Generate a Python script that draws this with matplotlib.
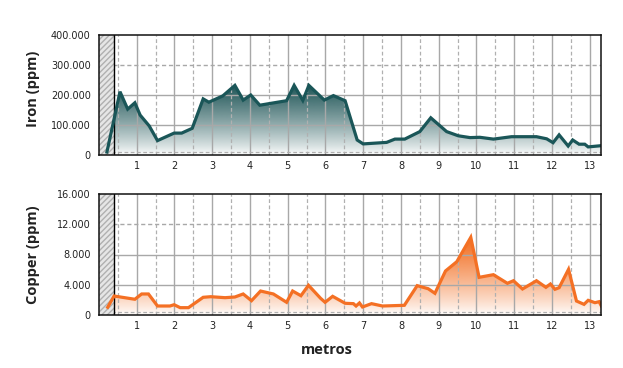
import numpy as np
import matplotlib
matplotlib.use("Agg")
import matplotlib.pyplot as plt
import matplotlib.colors as mcolors
from matplotlib.ticker import FuncFormatter

# ---- data ----
iron_x = [0.21, 0.556, 0.76, 0.95, 1.09, 1.33, 1.55, 1.99, 2.19, 2.47, 2.76, 2.91, 3.28, 3.60, 3.82,
          4.02, 4.26, 4.97, 5.17, 5.40, 5.56, 5.97, 6.21, 6.52, 6.84, 7.0, 7.62, 7.84, 8.1, 8.50,
          8.79, 9.21, 9.52, 9.83, 10.09, 10.45, 10.93, 11.59, 11.86, 12.03, 12.19, 12.43, 12.55,
          12.72, 12.87, 12.96, 13.3]
iron_y = [10000, 211000, 153000, 174000, 133000, 97000, 48000, 73000, 73000, 89000, 187000, 176000,
          197000, 232000, 183000, 200000, 166000, 181000, 232000, 182000, 232000, 183000, 198000,
          181000, 50000, 37000, 42000, 53000, 53000, 78000, 124000, 78000, 64000, 58000, 59000,
          53000, 61000, 61000, 54000, 41000, 67000, 30000, 50000, 36000, 36000, 27000, 31000]

copper_x = [0.23, 0.40, 0.95, 1.13, 1.31, 1.55, 1.88, 1.99, 2.15, 2.37, 2.76, 2.96, 3.34, 3.60, 3.82,
            4.04, 4.28, 4.62, 4.97, 5.13, 5.35, 5.55, 5.87, 5.99, 6.19, 6.52, 6.74, 6.81, 6.90, 6.98,
            7.22, 7.51, 8.09, 8.43, 8.72, 8.90, 9.18, 9.48, 9.85, 10.07, 10.45, 10.82, 10.98, 11.22,
            11.59, 11.84, 11.96, 12.08, 12.19, 12.44, 12.65, 12.85, 12.96, 13.14, 13.25, 13.31]
copper_y = [1020, 2510, 2080, 2780, 2780, 1190, 1190, 1360, 970, 970, 2340, 2420, 2290, 2380, 2780,
            1890, 3170, 2780, 1680, 3170, 2550, 3930, 2210, 1680, 2470, 1550, 1500, 1190, 1590, 1060,
            1500, 1190, 1280, 3880, 3480, 2870, 5820, 7050, 10270, 4980, 5330, 4190, 4530, 3440,
            4530, 3660, 4100, 3400, 3610, 6040, 1850, 1410, 1940, 1630, 1760, 1190]

x_ticks = list(range(1, 14))
iron_ticks = [0, 100000, 200000, 300000, 400000]
copper_ticks = [0, 4000, 8000, 12000, 16000]

XMAX = 13.3
HATCH_END = 0.4

plt.rcParams['font.family'] = ['DejaVu Sans']
fig = plt.figure(figsize=(6.23, 3.68), dpi=100)

def thousands(v, pos):
    return f"{int(round(v)):,}".replace(",", ".")

def make_axes(rect, x, y, ticks, line_color, fill_color):
    ax = fig.add_axes(rect)
    x = np.asarray(x, float); y = np.asarray(y, float)
    ymax = ticks[-1]
    ax.set_xlim(0, XMAX)
    ax.set_ylim(0, ymax)
    # grid
    for v in np.arange(0.5, XMAX, 0.5):
        if abs(v - round(v)) < 1e-6:
            ax.axvline(v, color='#a8a8a8', lw=1.0, zorder=1.5)
        else:
            ax.axvline(v, color='#b0b0b0', lw=0.9, ls=(0, (3, 2)), zorder=1.5)
    for i, t in enumerate(ticks[1:-1]):
        ls = '-' if i < 2 else (0, (3, 2))
        ax.axhline(t, color='#a8a8a8', lw=1.0, ls=ls, zorder=1.5)
    ax.axhline(ymax * 0.028, color='#b0b0b0', lw=0.9, ls=(0, (3, 2)), zorder=1.5)
    # gradient fill
    poly = ax.fill_between(x, y, 0, facecolor='none', edgecolor='none')
    rgb = mcolors.to_rgb(fill_color)
    n = 256
    img = np.zeros((n, 1, 4))
    img[..., :3] = rgb
    img[..., 3] = (np.linspace(0.0, 1.0, n) ** 0.85)[:, None]
    im = ax.imshow(img, extent=[x.min(), x.max(), 0, y.max()], origin='lower',
                   aspect='auto', zorder=1, interpolation='bilinear')
    im.set_clip_path(poly.get_paths()[0], transform=ax.transData)
    # hatched region
    ax.axvspan(0, HATCH_END, facecolor='#e6e6e6', edgecolor='#b0b0b0', hatch='//////',
               lw=0, zorder=2)
    ax.axvline(HATCH_END, color='black', lw=1.0, zorder=2.5)
    # line
    ax.plot(x, y, color=line_color, lw=2.3, zorder=3, solid_joinstyle='miter')
    ax.set_xlim(0, XMAX)
    ax.set_ylim(0, ymax)
    ax.set_xticks(x_ticks)
    ax.set_yticks(ticks)
    ax.yaxis.set_major_formatter(FuncFormatter(thousands))
    ax.tick_params(length=0, labelsize=7, colors='#222222', pad=6)
    ax.tick_params(axis='x', pad=4)
    for s in ax.spines.values():
        s.set_color('#111111'); s.set_linewidth(1.1); s.set_zorder(4)
    return ax

L = 99 / 623
W = (601 - 99) / 623
ax1 = make_axes([L, 1 - 155 / 368, W, 120 / 368], iron_x, iron_y, iron_ticks, '#1a5658', '#1f5557')
ax2 = make_axes([L, 1 - 315 / 368, W, 121 / 368], copper_x, copper_y, copper_ticks, '#f47024', '#f26a1b')

fig.text(33 / 623, 1 - 89 / 368, 'Iron (ppm)', rotation=90, ha='center', va='center',
         fontsize=10.5, fontweight='bold', family='Open Sans', color='#222222')
fig.text(33 / 623, 1 - 255 / 368, 'Copper (ppm)', rotation=90, ha='center', va='center',
         fontsize=10.5, fontweight='bold', family='Open Sans', color='#222222')
fig.text(327 / 623, 1 - 350 / 368, 'metros', ha='center', va='center',
         fontsize=10.5, fontweight='bold', family='Open Sans', color='#222222')

fig.savefig('out.png', dpi=100)
